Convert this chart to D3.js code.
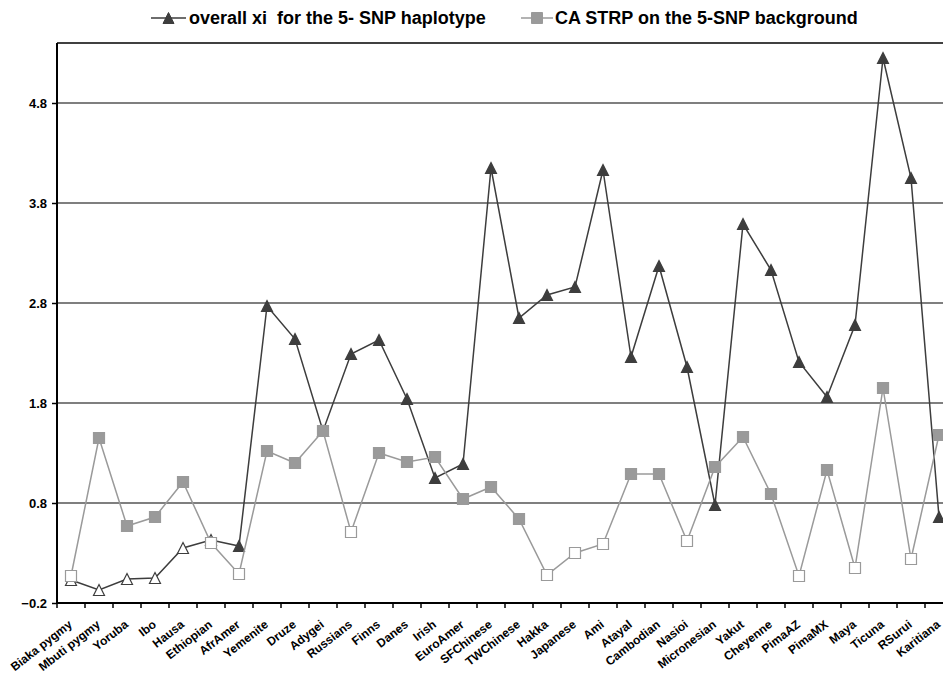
<!DOCTYPE html>
<html>
<head>
<meta charset="utf-8">
<script src="https://cdnjs.cloudflare.com/ajax/libs/d3/7.8.5/d3.min.js"></script>
<style>
  html, body { margin: 0; padding: 0; background: #fff; }
  svg { display: block; font-family: "Liberation Sans", Arial, sans-serif; font-weight: bold; }
</style>
</head>
<body>
<svg id="chart" width="943" height="675"></svg>
<script>
// ---- data ----
const categories = ["Biaka pygmy","Mbuti pygmy","Yoruba","Ibo","Hausa","Ethiopian","AfrAmer","Yemenite","Druze","Adygei","Russians","Finns","Danes","Irish","EuroAmer","SFChinese","TWChinese","Hakka","Japanese","Ami","Atayal","Cambodian","Nasioi","Micronesian","Yakut","Cheyenne","PimaAZ","PimaMX","Maya","Ticuna","RSurui","Karitiana"];
const xiValues = [0.03,-0.07,0.04,0.05,0.35,0.43,0.37,2.77,2.44,1.52,2.29,2.43,1.84,1.05,1.19,4.15,2.65,2.88,2.96,4.13,2.26,3.17,2.16,0.78,3.59,3.13,2.21,1.86,2.58,5.25,4.05,0.66];
const xiFilled = [false,false,false,false,false,false,true,true,true,true,true,true,true,true,true,true,true,true,true,true,true,true,true,true,true,true,true,true,true,true,true,true];
const caValues = [0.07,1.45,0.57,0.66,1.01,0.40,0.09,1.32,1.20,1.52,0.51,1.30,1.21,1.26,0.84,0.96,0.64,0.08,0.30,0.39,1.09,1.09,0.42,1.16,1.46,0.89,0.07,1.13,0.15,1.95,0.24,1.48];
const caFilled = [false,true,true,true,true,false,false,true,true,true,false,true,true,true,true,true,true,false,false,false,true,true,false,true,true,true,false,true,false,true,false,true];
const yTickValues = [-0.2, 0.8, 1.8, 2.8, 3.8, 4.8];
const seriesNames = ["overall xi  for the 5- SNP haplotype", "CA STRP on the 5-SNP background"];

// ---- layout ----
const svg = d3.select("#chart");
const pLeft = 57, pRight = 953, pTop = 43, pBottom = 603;
const darkCol = "#3d3d3d", greyCol = "#9a9a9a";

const x = d3.scaleBand().domain(categories).range([pLeft, pRight]).padding(0);
const y = d3.scaleLinear().domain([-0.2, 5.4]).range([pBottom, pTop]);
const cx = c => x(c) + x.bandwidth() / 2;

svg.append("rect").attr("width", 943).attr("height", 675).attr("fill", "#fff");

// gridlines
svg.append("g").selectAll("line").data(yTickValues.filter(v => v > -0.2)).join("line")
  .attr("x1", pLeft).attr("x2", pRight)
  .attr("y1", d => y(d)).attr("y2", d => y(d))
  .attr("stroke", "#555").attr("stroke-width", 1.5);

// top border
svg.append("line").attr("x1", pLeft).attr("x2", pRight).attr("y1", pTop).attr("y2", pTop)
  .attr("stroke", "#000").attr("stroke-width", 1.5);

// y axis
const yAxis = svg.append("g").attr("transform", `translate(${pLeft},0)`)
  .call(d3.axisLeft(y).tickValues(yTickValues).tickSize(5).tickPadding(5).tickFormat(d3.format(".1f")));
yAxis.attr("font-size", null).attr("font-family", null);
yAxis.select(".domain").attr("stroke", "#000").attr("stroke-width", 2).attr("d", `M0,${pTop}V${pBottom}`);
yAxis.selectAll(".tick line").attr("stroke", "#000").attr("stroke-width", 1.5);
yAxis.selectAll(".tick text").style("font-size", "13px").style("font-weight", "bold")
  .attr("fill", "#000");

// x axis
const xg = svg.append("g");
xg.append("line").attr("x1", pLeft).attr("x2", pRight).attr("y1", pBottom).attr("y2", pBottom)
  .attr("stroke", "#000").attr("stroke-width", 2);
const boundaries = categories.map(c => x(c)).concat([x.range()[1]]);
xg.selectAll("line.tk").data(boundaries).join("line").attr("class", "tk")
  .attr("x1", d => d).attr("x2", d => d).attr("y1", pBottom).attr("y2", pBottom + 5)
  .attr("stroke", "#000").attr("stroke-width", 1.5);
xg.selectAll("text").data(categories).join("text")
  .attr("transform", d => `translate(${cx(d) + 2},${pBottom + 23}) rotate(-38)`)
  .attr("text-anchor", "end")
  .style("font-size", "12px")
  .attr("fill", "#000")
  .text(d => d);

const triPath = "M0,-5.5L5.5,5.5L-5.5,5.5Z";
const sqPath = "M-5.5,-5.5H5.5V5.5H-5.5Z";

function drawSeries(values, filled, col, path, lw) {
  const g = svg.append("g");
  const pts = categories.map((c, i) => [cx(c), y(values[i])]);
  g.append("path").attr("d", d3.line()(pts)).attr("fill", "none")
    .attr("stroke", col).attr("stroke-width", lw);
  g.selectAll("path.m").data(categories).join("path").attr("class", "m")
    .attr("d", path)
    .attr("transform", (c, i) => `translate(${cx(c)},${y(values[i])})`)
    .attr("fill", (c, i) => filled[i] ? col : "#fff")
    .attr("stroke", col).attr("stroke-width", 1.2);
}
drawSeries(xiValues, xiFilled, darkCol, triPath, 1.5);
drawSeries(caValues, caFilled, greyCol, sqPath, 1.5);

// legend
const legend = [
  {name: seriesNames[0], col: darkCol, path: triPath, x1: 151, x2: 186, tx: 189},
  {name: seriesNames[1], col: greyCol, path: sqPath, x1: 521, x2: 553, tx: 555}
];
const lg = svg.append("g");
legend.forEach(l => {
  lg.append("line").attr("x1", l.x1).attr("x2", l.x2).attr("y1", 18).attr("y2", 18)
    .attr("stroke", l.col).attr("stroke-width", 1.5);
  lg.append("path").attr("d", l.path).attr("transform", `translate(${(l.x1 + l.x2) / 2},18)`)
    .attr("fill", l.col).attr("stroke", l.col);
  lg.append("text").attr("x", l.tx).attr("y", 18).attr("dy", "0.35em")
    .style("font-size", "18px").attr("fill", "#000").style("white-space", "pre")
    .text(l.name);
});
</script>
</body>
</html>
